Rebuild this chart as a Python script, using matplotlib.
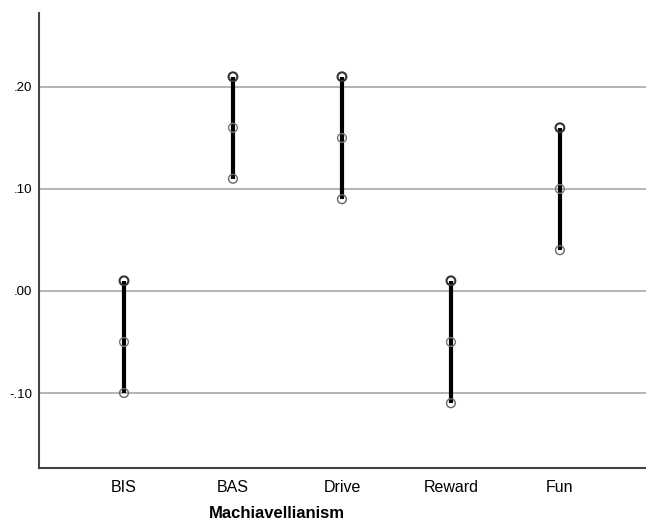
import matplotlib
matplotlib.use("Agg")
import matplotlib.pyplot as plt
import numpy as np

plt.rcParams['font.family'] = ['Liberation Sans', 'DejaVu Sans']

categories = ["BIS", "BAS", "Drive", "Reward", "Fun"]
high = [0.01, 0.21, 0.21, 0.01, 0.16]
mid = [-0.05, 0.16, 0.15, -0.05, 0.10]
low = [-0.10, 0.11, 0.09, -0.11, 0.04]
yticks = [-0.10, 0.00, 0.10, 0.20]
ytick_labels = ["-.10", ".00", ".10", ".20"]

fig = plt.figure(figsize=(6.46, 5.26), dpi=100)
ax = fig.add_axes([39/646, 1-468/526, (646-39)/646, (468-13)/526])

x = np.arange(len(categories))
for yv in yticks:
    ax.axhline(yv, color="#a8a8a8", lw=1.2, zorder=1)

ax.vlines(x, low, high, color="black", lw=3, zorder=2)
ax.scatter(x, high, s=40, facecolors="none", edgecolors="#333333", linewidths=1.5, zorder=3)
ax.scatter(x, mid, s=40, facecolors="none", edgecolors="#777777", linewidths=1.0, zorder=3)
ax.scatter(x, low, s=40, facecolors="none", edgecolors="#666666", linewidths=1.0, zorder=3)

ax.set_xlim(-0.78, 4.79)
ax.set_ylim(-0.1735, 0.2725)
ax.set_xticks(x)
ax.set_xticklabels(categories, fontsize=11.5)
ax.set_yticks(yticks)
ax.set_yticklabels(ytick_labels, fontsize=9.5)
ax.tick_params(axis="x", length=0, pad=9)
ax.tick_params(axis="y", length=0, pad=5)

for s in ["top", "right"]:
    ax.spines[s].set_visible(False)
for s in ["left", "bottom"]:
    ax.spines[s].set_color("#444444")
    ax.spines[s].set_linewidth(1.5)

fig.text(277/646, 1-518/526, "Machiavellianism", fontsize=12, fontweight="bold",
         ha="center", va="baseline")

fig.savefig("out.png", dpi=100)
